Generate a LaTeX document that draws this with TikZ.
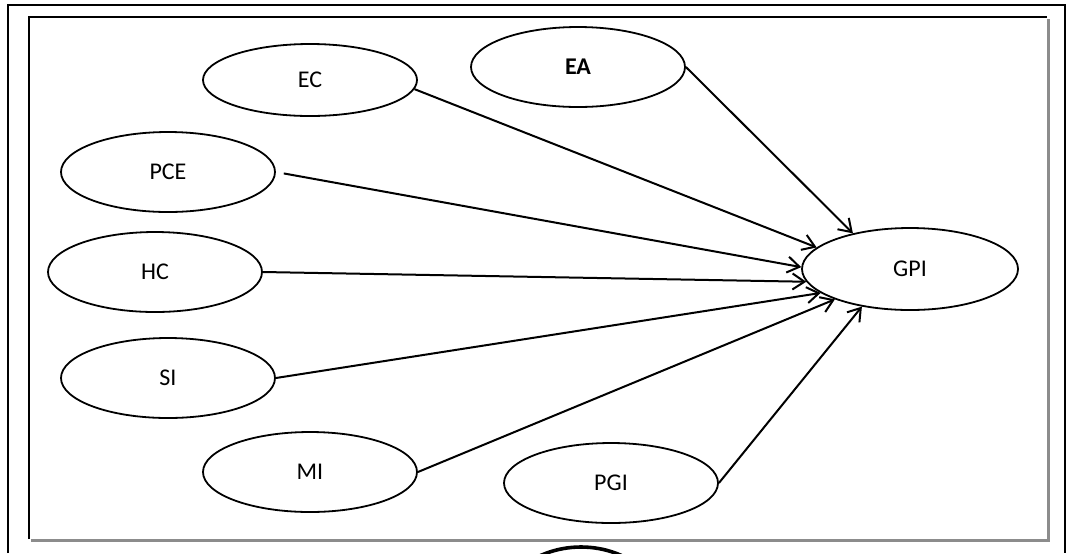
\documentclass[tikz,border=0pt]{standalone}
\usepackage{fontspec}
\setmainfont{Carlito}
\usepackage{tikz}
\usetikzlibrary{shapes,arrows.meta,positioning}
\definecolor{framegray}{HTML}{8C8C8C}
\tikzstyle{factor} = [ellipse, draw=black, line width=0.9pt, minimum width=107pt,
    minimum height=40pt, inner sep=0pt, font=\fontsize{12}{14}\selectfont]
\tikzstyle{arrow} = [-{Straight Barb[length=6pt,width=8pt]}, line width=1pt, black]

\begin{document}
\begin{tikzpicture}[x=0.5pt,y=-0.5pt]
\useasboundingbox (0,0) rectangle (1075,553);
\draw[line width=1pt] (8,553) -- (8,5) -- (1065,5) -- (1065,553);
\draw[framegray, line width=1.5pt] (1048,19) -- (1048,540) -- (31,540);
\draw[line width=0.8pt] (29,539) -- (29,17) -- (1047,17);
\begin{scope}
\clip (0,0) rectangle (1075,553);
\draw[line width=1.8pt] (581,627) ellipse [x radius=45pt, y radius=40pt];
\end{scope}

\node[factor, minimum height=36pt] (ec) at (310,80) {EC};
\node[factor] (ea) at (578,67) {\textbf{EA}};
\node[factor] (pce) at (168,172) {PCE};
\node[factor] (hc) at (155,272) {HC};
\node[factor] (si) at (168,378) {SI};
\node[factor] (mi) at (310,472) {MI};
\node[factor] (pgi) at (611,483) {PGI};
\node[factor, minimum width=108pt, minimum height=41pt] (gpi) at (910,269) {GPI};

\draw[arrow] (ea.east) -- (gpi.148);
\draw[arrow] (ec.-5) -- (gpi.167);
\draw[arrow, shorten <=4pt] (pce.east) -- (gpi.179);
\draw[arrow] (hc.east) -- (gpi.187);
\draw[arrow] (si.east) -- (gpi.195);
\draw[arrow] (mi.east) -- (gpi.202);
\draw[arrow] (pgi.east) -- (gpi.218);
\end{tikzpicture}
\end{document}
